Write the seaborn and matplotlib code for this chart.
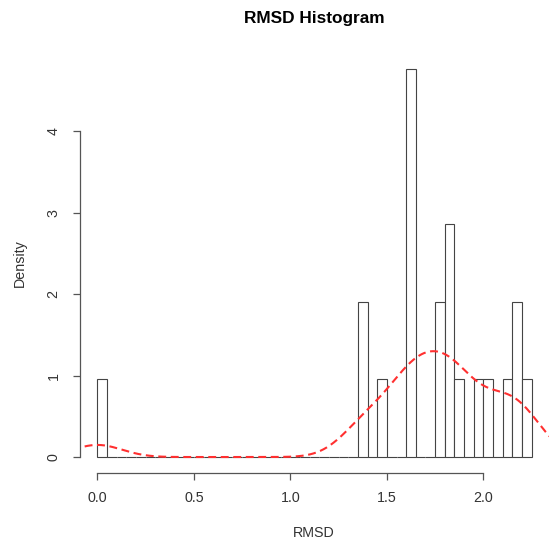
import numpy as np
import pandas as pd
import matplotlib
matplotlib.use("Agg")
import matplotlib.pyplot as plt
import seaborn as sns

# RMSD values (21 structures, bins of 0.05)
rmsd = [0.00,
        1.37, 1.38,
        1.47,
        1.61, 1.62, 1.63, 1.63, 1.64,
        1.77, 1.78,
        1.81, 1.82, 1.84,
        1.87,
        1.97,
        2.02,
        2.12,
        2.16, 2.18,
        2.22]
bin_edges = np.arange(0, 2.2501, 0.05)
x_ticks = [0.0, 0.5, 1.0, 1.5, 2.0]
y_ticks = [0, 1, 2, 3, 4]

def main():
    sns.set_style("white")
    plt.rcParams['font.family'] = ['Liberation Sans', 'DejaVu Sans']

    df = pd.DataFrame({'RMSD': rmsd})

    fig = plt.figure(figsize=(5.55, 5.44), dpi=100)
    ax = fig.add_axes([80 / 555, 1 - 472.5 / 544, 469 / 555, 418.5 / 544])

    # histogram, R style: white bars with dark outlines
    sns.histplot(data=df, x='RMSD', bins=bin_edges, stat='density',
                 color='white', edgecolor='#444444', linewidth=0.8,
                 alpha=1, ax=ax)

    # kernel density with R's default bandwidth (bw.nrd0)
    vals = np.asarray(rmsd)
    sd = vals.std(ddof=1)
    iqr = np.subtract(*np.percentile(vals, [75, 25]))
    bw = 0.9 * min(sd, iqr / 1.34) * len(vals) ** -0.2
    sns.kdeplot(data=df, x='RMSD', bw_method=bw / sd, cut=3, gridsize=512,
                color='#ff3030', linewidth=1.5, linestyle=(0, (3.8, 2.2)),
                ax=ax)

    ax.set_xlim(-0.09, 2.34)
    ax.set_ylim(-0.19, 4.95)

    # R-like axes
    for side in ['top', 'right']:
        ax.spines[side].set_visible(False)
    ax.spines['left'].set_bounds(0, 4)
    ax.spines['bottom'].set_bounds(0, 2)
    for side in ['left', 'bottom']:
        ax.spines[side].set_color('#555555')
        ax.spines[side].set_linewidth(0.9)

    ax.set_xticks(x_ticks)
    ax.set_xticklabels([f"{t:.1f}" for t in x_ticks])
    ax.set_yticks(y_ticks)
    ax.set_yticklabels([str(t) for t in y_ticks], rotation=90, va='center')
    ax.tick_params(axis='both', direction='out', length=5, width=0.9,
                   color='#555555', labelsize=10.3, labelcolor='#333333',
                   left=True, bottom=True)
    ax.tick_params(axis='x', pad=8)
    ax.tick_params(axis='y', pad=9)

    ax.set_xlabel('')
    ax.set_ylabel('')
    fig.text(314 / 555, 1 - 533 / 544, 'RMSD', ha='center', va='center',
             fontsize=10.3, color='#333333')
    fig.text(20 / 555, 1 - 263 / 544, 'Density', ha='center', va='center',
             rotation=90, fontsize=10.3, color='#333333')
    fig.text(314 / 555, 1 - 18 / 544, 'RMSD Histogram', ha='center',
             va='center', fontsize=12.4, fontweight='bold', color='black')

    fig.savefig('out.png', dpi=100)
    plt.close(fig)

if __name__ == "__main__":
    main()
